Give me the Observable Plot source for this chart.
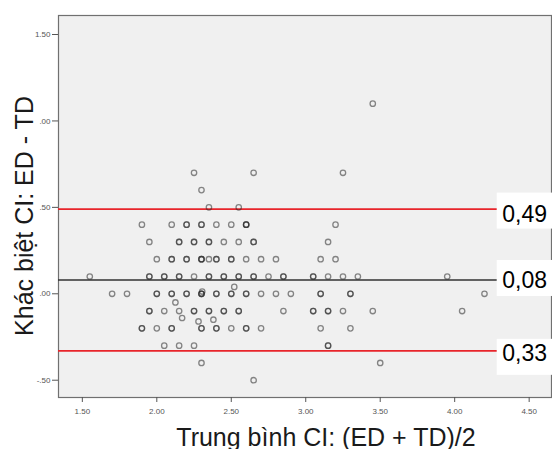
<!DOCTYPE html>
<html>
<head>
<meta charset="utf-8">
<script src="https://cdn.jsdelivr.net/npm/d3@7"></script>
<script src="https://cdn.jsdelivr.net/npm/@observablehq/plot@0.6"></script>
<style>
  html, body { margin: 0; padding: 0; background: #ffffff; overflow: hidden; }
</style>
</head>
<body>
<div id="chart"></div>
<script>
// ---- Data ----
// difference levels (ED - TD) and the means (ED + TD)/2 observed at each level
const diffLevels = [1.1, 0.7, 0.6, 0.5, 0.4, 0.3, 0.2, 0.1, 0.0, -0.1, -0.2, -0.3, -0.4, -0.5];
const meansAtLevel = [
  [3.45],
  [2.25, 2.65, 3.25],
  [2.30],
  [2.35, 2.55],
  [1.90, 2.10, 2.20, 2.30, 2.40, 2.50, 2.60, 3.20],
  [1.95, 2.15, 2.25, 2.35, 2.45, 2.55, 2.65, 3.15],
  [2.00, 2.10, 2.20, 2.30, 2.35, 2.40, 2.50, 2.60, 2.70, 2.80, 3.10, 3.20],
  [1.55, 1.95, 2.05, 2.15, 2.25, 2.35, 2.45, 2.55, 2.65, 2.75, 2.85, 3.05, 3.15, 3.25, 3.35, 3.95],
  [1.70, 1.80, 2.00, 2.10, 2.20, 2.30, 2.40, 2.50, 2.60, 2.70, 2.80, 2.90, 3.10, 3.30, 4.20],
  [1.95, 2.05, 2.15, 2.25, 2.35, 2.45, 2.55, 2.85, 3.05, 3.15, 3.25, 3.45, 4.05],
  [1.90, 2.00, 2.10, 2.30, 2.40, 2.50, 2.60, 2.70, 3.10, 3.30],
  [2.05, 2.15, 2.25, 3.15],
  [2.30, 3.50],
  [2.65]
];
// tied observations (drawn again on top, making those circles darker)
const tiedMeans = [2.20, 2.30, 2.60, 2.60, 2.15, 2.25, 2.35, 2.65, 2.10, 2.20, 2.30, 2.30, 2.40, 2.50,
  1.95, 2.05, 2.15, 2.35, 2.45, 2.55, 2.65, 2.85, 3.05, 2.00, 2.10, 2.20, 2.30, 2.30, 2.40, 2.50, 2.60, 3.10, 3.30,
  1.95, 2.25, 2.35, 2.45, 2.55, 3.05, 3.15, 1.90, 2.10, 2.30, 2.40, 2.60, 3.15];
const tiedDiffs = [0.4, 0.4, 0.4, 0.4, 0.3, 0.3, 0.3, 0.3, 0.2, 0.2, 0.2, 0.2, 0.2, 0.2,
  0.1, 0.1, 0.1, 0.1, 0.1, 0.1, 0.1, 0.1, 0.1, 0.0, 0.0, 0.0, 0.0, 0.0, 0.0, 0.0, 0.0, 0.0, 0.0,
  -0.1, -0.1, -0.1, -0.1, -0.1, -0.1, -0.1, -0.2, -0.2, -0.2, -0.2, -0.2, -0.3];
// off-grid observations
const otherMeans = [2.305, 2.52, 2.125, 2.17, 2.28, 2.38];
const otherDiffs = [0.013, 0.04, -0.05, -0.14, -0.16, -0.15];

// limits of agreement and mean difference
const limitValues = [0.49, 0.08, -0.33];
const limitLabels = ["0,49", "0,08", "0,33"];
const limitColors = ["#e8252b", "#333333", "#e8252b"];

const xTicks = [1.5, 2.0, 2.5, 3.0, 3.5, 4.0, 4.5];
const xTickLabels = ["1.50", "2.00", "2.50", "3.00", "3.50", "4.00", "4.50"];
const yTicks = [-0.5, 0.0, 0.5, 1.0, 1.5];
const yTickLabels = ["-.50", ".00", ".50", ".00", "1.50"];

const xTitle = "Trung bình CI: (ED + TD)/2";
const yTitle = "Khác biệt CI: ED - TD";

// ---- Build the point table ----
const points = [];
diffLevels.forEach((d, i) => meansAtLevel[i].forEach(m => points.push({mean: m, diff: d})));
otherMeans.forEach((m, i) => points.push({mean: m, diff: otherDiffs[i]}));
tiedMeans.forEach((m, i) => points.push({mean: m, diff: tiedDiffs[i]}));

const xLabelMap = new Map(xTicks.map((t, i) => [t, xTickLabels[i]]));
const yLabelMap = new Map(yTicks.map((t, i) => [t, yTickLabels[i]]));
const limits = limitValues.map((v, i) => ({v, label: limitLabels[i], color: limitColors[i]}));

const font = "'Liberation Sans', Arial, Helvetica, sans-serif";
const labelDy = [13, 8, 10];
const boxShift = [2, -1.5, 6.5];

const chart = Plot.plot({
  width: 552,
  height: 449,
  marginLeft: 58,
  marginRight: 1,
  marginTop: 15,
  marginBottom: 52,
  style: {fontFamily: font, background: "#ffffff", color: "#555"},
  x: {domain: [1.34, 4.65]},
  y: {domain: [-0.6, 1.61]},
  marks: [
    Plot.frame({fill: "#f0f0f0", stroke: "#707070", strokeWidth: 1.2}),
    Plot.ruleY(limits, {y: "v", stroke: "color", strokeWidth: 1.6}),
    Plot.dot(points, {x: "mean", y: "diff", r: 2.7, stroke: "#2a2a2a", strokeOpacity: 0.55, strokeWidth: 1.3}),
    Plot.axisX({ticks: xTicks, tickFormat: d => xLabelMap.get(d), tickSize: 5, tickPadding: 6, fontSize: 8, label: null}),
    Plot.axisY({ticks: yTicks, tickFormat: d => yLabelMap.get(d), tickSize: 6, tickPadding: 2, fontSize: 8, label: null}),
    Plot.text([xTitle], {frameAnchor: "bottom", text: d => d, textAnchor: "middle", lineAnchor: "bottom", dy: 48, dx: 21, fontSize: 25, fill: "#1a1a1a"}),
    Plot.text([yTitle], {frameAnchor: "left", text: d => d, textAnchor: "middle", lineAnchor: "bottom", rotate: -90, dx: -26, dy: 9.5, fontSize: 25, fill: "#1a1a1a"}),
    ...limits.map((l, i) => Plot.text([l], {y: "v", text: "label", frameAnchor: "right", textAnchor: "start", lineAnchor: "bottom", dx: -49.3, dy: labelDy[i], fontSize: 23, fill: "#000"}))
  ]
});

document.getElementById("chart").appendChild(chart);

// white label boxes behind the limit labels (placed from the y scale and the text positions)
const yScale = chart.scale("y");
const svgRect = chart.getBoundingClientRect();
const textGroups = Array.from(chart.querySelectorAll('g[aria-label="text"]')).slice(2);
const ns = "http://www.w3.org/2000/svg";
textGroups.forEach((g, i) => {
  const t = g.querySelector("text");
  const tr = t.getBoundingClientRect();
  const left = tr.left - svgRect.left;
  const cy = yScale.apply(limitValues[i]) + boxShift[i];
  const r = document.createElementNS(ns, "rect");
  r.setAttribute("x", left - 5.5);
  r.setAttribute("y", cy - 18);
  r.setAttribute("width", 80);
  r.setAttribute("height", 36);
  r.setAttribute("fill", "#ffffff");
  g.parentNode.insertBefore(r, g);
});
</script>
</body>
</html>
